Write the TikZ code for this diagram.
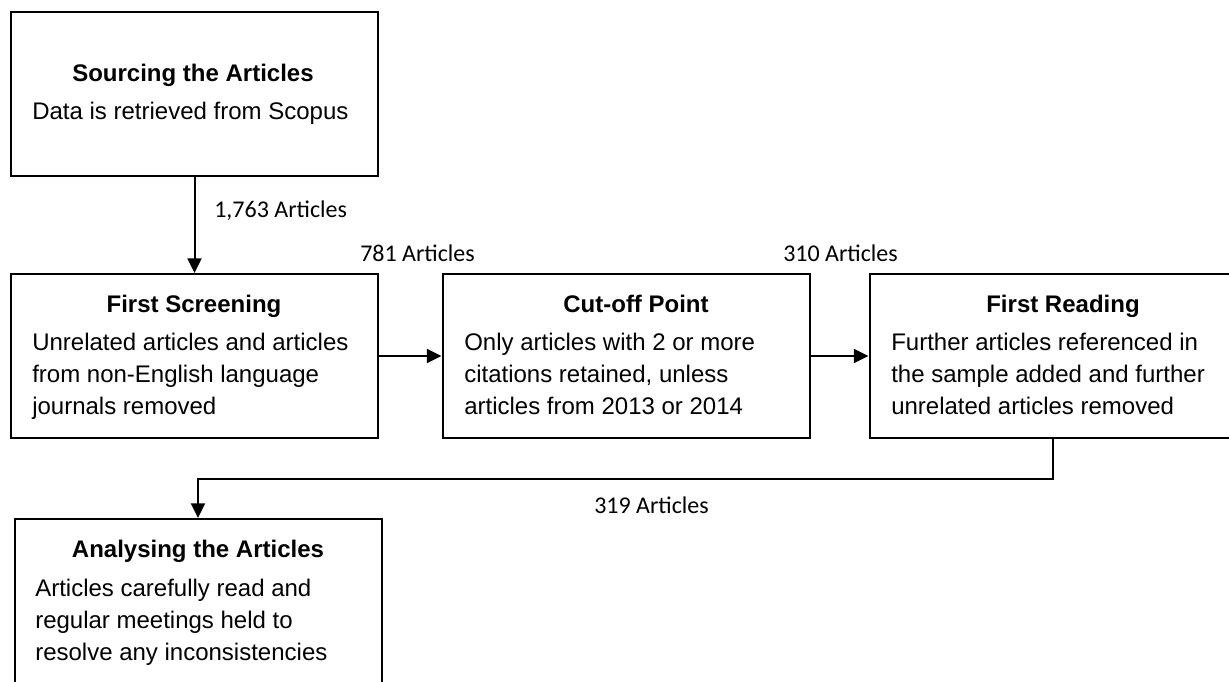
\documentclass[tikz,border=0pt]{standalone}
\usepackage{fontspec}
\setmainfont{Liberation Sans}
\newfontfamily\countfont{Carlito}
\usetikzlibrary{arrows.meta}

\begin{document}
\begin{tikzpicture}[x=0.75pt, y=-0.75pt,
	box/.style={draw, line width=1.5pt, minimum width=275.25pt, minimum height=123pt, inner sep=0pt},
	head/.style={anchor=base, inner sep=0pt, font=\fontsize{18}{24}\selectfont\bfseries},
	body/.style={anchor=base west, align=left, inner sep=0pt, font=\fontsize{18}{24}\selectfont},
	artcount/.style={anchor=base west, inner sep=0pt, font=\countfont\fontsize{18}{24}\selectfont},
	flow/.style={line width=1.5pt, -{Triangle[length=11pt, width=10.5pt]}}]
	\path[use as bounding box, clip] (0,0) rectangle (1229,682);

	% the five stages
	\node[box] (src) at (194.5,94) {};
	\node[box] (screen) at (194.5,356) {};
	\node[box] (cutoff) at (626,356) {};
	\node[box] (reading) at (1053,356) {};
	\node[box] (analyse) at (198,601) {};

	% base of a body text is its last line
	\node[head] (srchead) at (193,81) {Sourcing the Articles};
	\node[body] (srcbody) at (32,119) {Data is retrieved from Scopus};

	\node[head] (screenhead) at (194,312) {First Screening};
	\node[body] (screenbody) at (32,414) {Unrelated articles and articles\\from non-English language\\journals removed};

	\node[head] (cutoffhead) at (636,312) {Cut-off Point};
	\node[body] (cutoffbody) at (464,414) {Only articles with 2 or more\\citations retained, unless\\articles from 2013 or 2014};

	\node[head] (readinghead) at (1063,312) {First Reading};
	\node[body] (readingbody) at (891,414) {Further articles referenced in\\the sample added and further\\unrelated articles removed};

	\node[head] (analysehead) at (198,557) {Analysing the Articles};
	\node[body] (analysebody) at (35,660) {Articles carefully read and\\regular meetings held to\\resolve any inconsistencies};

	% article counts
	\node[artcount] (n1) at (214,217) {1,763 Articles};
	\node[artcount] (n2) at (360,261) {781 Articles};
	\node[artcount] (n3) at (783,261) {310 Articles};
	\node[artcount] (n4) at (594,513) {319 Articles};

	\coordinate (bend) at (1053,479);

	\draw[flow] (src) -- (screen);
	\draw[flow] (screen) -- (cutoff);
	\draw[flow] (cutoff) -- (reading);
	\draw[flow] (reading.south) -- (bend) -| (analyse.north);
\end{tikzpicture}
\end{document}
